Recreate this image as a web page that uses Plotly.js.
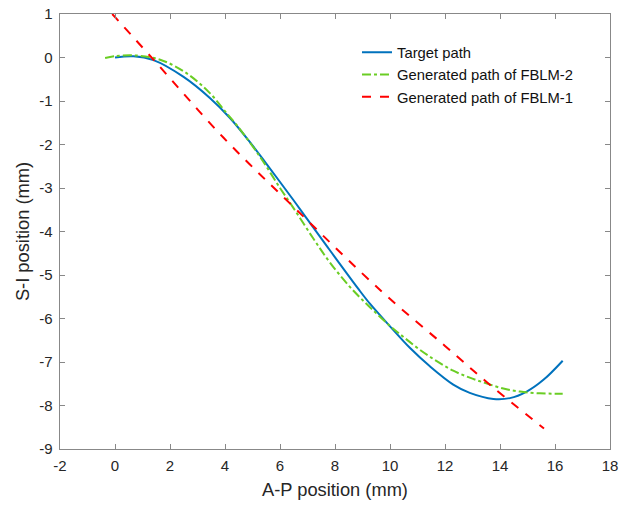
<!DOCTYPE html>
<html>
<head>
<meta charset="utf-8">
<script src="https://cdn.plot.ly/plotly-3.0.1.min.js"></script>
<style>html,body{margin:0;padding:0;background:#fff;}#chart{width:629px;height:506px;}</style>
</head>
<body>
<div id="chart"></div>
<script>
const targetX = [0, 0.67, 1.4, 2.48, 3.45, 4.18, 4.85, 5.5, 6.48, 6.97, 7.8, 8.85, 9.27, 10.0, 10.73, 11.45, 12.3, 12.9, 13.76, 14.36, 14.97, 15.58, 16.28];
const targetY = [0, 0.03, -0.06, -0.44, -0.93, -1.39, -1.9, -2.44, -3.27, -3.7, -4.42, -5.32, -5.66, -6.18, -6.68, -7.1, -7.52, -7.71, -7.85, -7.83, -7.68, -7.41, -6.97];

const fblm2X = [-0.36, 0, 0.67, 1.64, 2.6, 3.45, 4.06, 4.42, 5.27, 6.0, 6.48, 7.2, 7.8, 8.55, 9.27, 10.0, 10.48, 11.09, 11.7, 12.3, 12.9, 13.5, 14.12, 14.73, 15.45, 16.28];
const fblm2Y = [-0.01, 0.03, 0.05, -0.05, -0.36, -0.82, -1.28, -1.55, -2.28, -3.0, -3.45, -4.15, -4.7, -5.28, -5.74, -6.17, -6.42, -6.72, -6.98, -7.2, -7.36, -7.49, -7.61, -7.68, -7.72, -7.73];

const fblm1X = [-0.1, 1.4, 3.94, 6.6, 9.7, 12.0, 13.7, 15.6];
const fblm1Y = [1.0, -0.05, -1.84, -3.5, -5.38, -6.63, -7.56, -8.53];

const xTicks = [-2, 0, 2, 4, 6, 8, 10, 12, 14, 16, 18];
const yTicks = [1, 0, -1, -2, -3, -4, -5, -6, -7, -8, -9];

const traces = [
  {x: targetX, y: targetY, name: 'Target path', mode: 'lines',
   line: {color: '#0072BD', width: 2, shape: 'spline', smoothing: 1}},
  {x: fblm2X, y: fblm2Y, name: 'Generated path of FBLM-2', mode: 'lines',
   line: {color: '#6ACD24', width: 2, dash: 'dashdot', shape: 'spline', smoothing: 1}},
  {x: fblm1X, y: fblm1Y, name: 'Generated path of FBLM-1', mode: 'lines',
   line: {color: '#FF0000', width: 2, dash: 'dash', shape: 'spline', smoothing: 1}}
];

const axisCommon = {
  showline: true, linecolor: '#888888', linewidth: 1.3, mirror: 'ticks',
  ticks: 'inside', ticklen: 5, tickcolor: '#888888', tickwidth: 1,
  showgrid: false, zeroline: false, ticklabelstandoff: 3,
  tickfont: {family: 'Liberation Sans, Arial', size: 15, color: '#262626'}
};

const layout = {
  width: 629, height: 506,
  margin: {l: 60, r: 19, t: 14, b: 57},
  paper_bgcolor: '#fff', plot_bgcolor: '#fff',
  showlegend: true,
  legend: {x: 0.54, y: 0.949, xanchor: 'left', yanchor: 'top',
           bgcolor: 'rgba(255,255,255,0)', borderwidth: 0,
           font: {family: 'Liberation Sans, Arial', size: 14.8, color: '#111'},
           tracegroupgap: 0},
  xaxis: Object.assign({}, axisCommon, {
    range: [-2, 18], tickmode: 'array', tickvals: xTicks, ticktext: xTicks.map(String),
    title: {text: 'A-P position (mm)', font: {family: 'Liberation Sans, Arial', size: 18.3, color: '#262626'}, standoff: 10}
  }),
  yaxis: Object.assign({}, axisCommon, {
    range: [-9, 1], tickmode: 'array', tickvals: yTicks, ticktext: yTicks.map(String),
    title: {text: 'S-I position (mm)', font: {family: 'Liberation Sans, Arial', size: 18.3, color: '#262626'}, standoff: 5}
  })
};

Plotly.newPlot('chart', traces, layout, {displayModeBar: false, staticPlot: true});
</script>
</body>
</html>
